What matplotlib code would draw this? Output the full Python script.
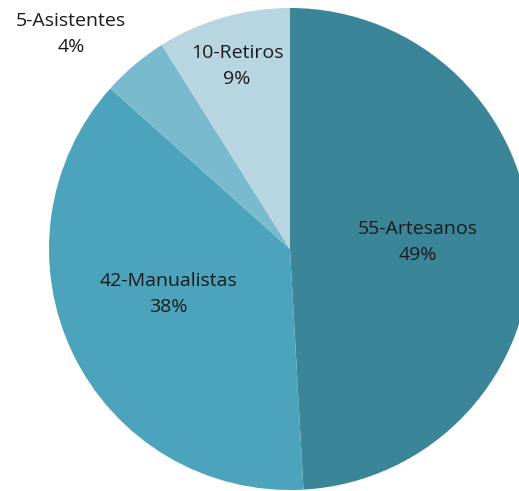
import matplotlib
matplotlib.use("Agg")
import matplotlib.pyplot as plt

categories = ["55-Artesanos", "42-Manualistas", "5-Asistentes", "10-Retiros"]
values = [55, 42, 5, 10]
colors = ["#3A8598", "#4BA3BC", "#7ABACF", "#B8D6E1"]
# label centres in pixels (x from left, y from top)
label_px = [(418, 242), (168, 294), (71, 34), (237, 66)]

W, H = 519, 491
fig = plt.figure(figsize=(W / 100, H / 100), dpi=100)
ax = fig.add_axes([0, 0, 1, 1])

cx, cy, r = 290, 249, 241
ax.pie(values, colors=colors, startangle=90, counterclock=False,
       radius=1, center=(0, 0), wedgeprops=dict(linewidth=0))
ax.set_xlim((0 - cx) / r, (W - cx) / r)
ax.set_ylim((cy - H) / r, (cy - 0) / r)
ax.set_aspect("auto")
ax.axis("off")

total = sum(values)
for cat, v, (px, py) in zip(categories, values, label_px):
    pct = round(100 * v / total)
    ax.text(px / W, 1 - py / H, f"{cat}\n{pct}%", transform=ax.transAxes,
            ha="center", va="center", fontsize=14, color="#1a1a1a",
            family="Open Sans", linespacing=1.58)

fig.savefig("out.png", dpi=100)
